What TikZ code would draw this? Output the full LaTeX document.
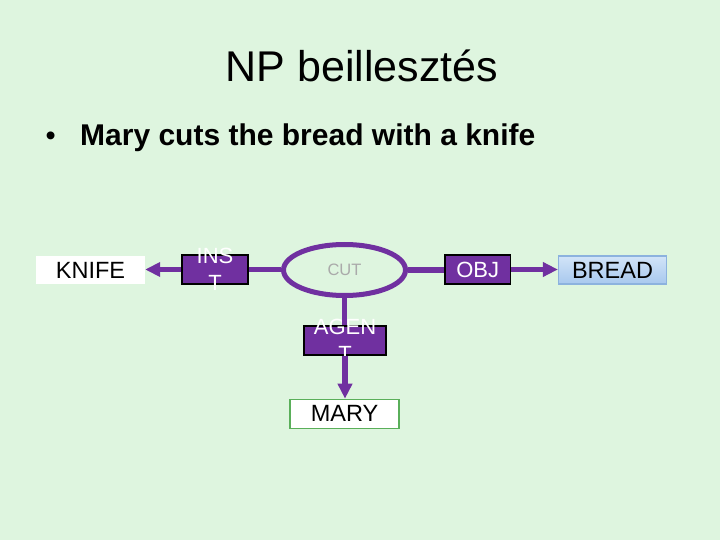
\documentclass[tikz,border=0pt]{standalone}
\usepackage{fontspec}
\setmainfont{Liberation Sans}
\usetikzlibrary{arrows.meta,shapes.geometric}
\definecolor{bg}{RGB}{222,245,223}
\definecolor{purp}{RGB}{112,48,160}
\definecolor{cutgray}{RGB}{170,170,170}
\definecolor{marygreen}{RGB}{90,175,90}
\definecolor{breadtop}{RGB}{210,228,248}
\definecolor{breadbot}{RGB}{168,200,238}
\definecolor{breadline}{RGB}{140,178,222}
\begin{document}
\begin{tikzpicture}[x=1pt,y=-1pt,
  conn/.style={draw=purp,line width=5.5pt},
  tipped/.style={-{Triangle[length=15pt,width=14pt]}},
  rolebox/.style={draw=black,fill=purp,line width=1.2pt,inner sep=0pt},
  roletext/.style={text=white,align=center,inner sep=0pt,font=\fontsize{22}{27}\selectfont},
  fillerbox/.style={inner sep=0pt,font=\fontsize{23.5}{28}\selectfont,text=black},
]
\fill[bg] (0,0) rectangle (720,540);
\useasboundingbox (0,0) rectangle (720,540);

\node[anchor=base,font=\fontsize{43}{50}\selectfont] (title) at (362,81.7) {NP beillesztés};
\node[anchor=base,inner sep=0pt,font=\fontsize{29}{34}\selectfont] (bullet) at (50.7,145.3) {•};
\node[anchor=base west,inner sep=0pt,font=\fontsize{30}{34}\selectfont\bfseries] (sentence) at (80,145.3) {Mary cuts the bread with a knife};

\node[fillerbox,fill=white,minimum width=109pt,minimum height=28.5pt] (knife) at (90.5,270) {KNIFE};
\node[rolebox,minimum width=66pt,minimum height=29pt] (inst) at (215,269.5) {};
\node[roletext] (insttext) at (inst.center) {INS\\T};
\node[ellipse,draw=purp,line width=5pt,minimum width=122pt,minimum height=51pt,inner sep=0pt,text=cutgray,font=\fontsize{16.5}{19}\selectfont] (cut) at (344.5,270) {CUT};
\node[rolebox,minimum width=65.5pt,minimum height=29pt] (obj) at (477.75,269.5) {};
\node[roletext] (objtext) at (obj.center) {OBJ};
\node[fillerbox,top color=breadtop,bottom color=breadbot,draw=breadline,line width=1.2pt,minimum width=108pt,minimum height=28pt] (bread) at (612.5,270) {BREAD};
\node[rolebox,minimum width=82pt,minimum height=29pt] (agent) at (345,340.5) {};
\node[roletext] (agenttext) at (agent.center) {AGEN\\T};
\node[fillerbox,fill=white,draw=marygreen,line width=1.2pt,minimum width=109pt,minimum height=29pt] (mary) at (344.5,413.8) {MARY};

\draw[conn,tipped] (inst.west) -- (inst.west -| knife.east);
\draw[conn] (inst.east) -- (inst.east -| cut.west);
\draw[conn] (cut.east) -- (cut.east -| obj.west);
\draw[conn,tipped] (obj.east) -- (obj.east -| bread.west);
\draw[conn] (cut.south) -- (cut.south |- agent.north);
\draw[conn,tipped] (agent.south) -- (agent.south |- mary.north);
\end{tikzpicture}
\end{document}
